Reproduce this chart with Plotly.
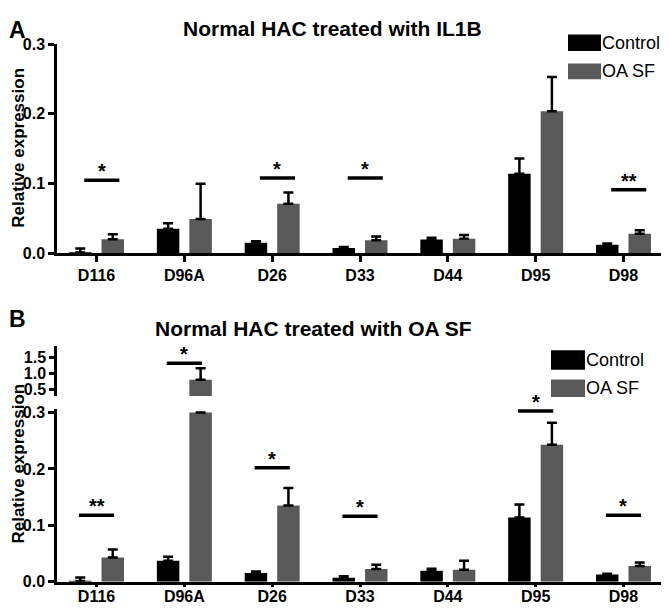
import plotly.graph_objects as go

# ---- data ----
genes = ['D116', 'D96A', 'D26', 'D33', 'D44', 'D95', 'D98']

# Panel A: Normal HAC treated with IL1B
a_control = [0.001, 0.035, 0.015, 0.0074, 0.0195, 0.114, 0.012]
a_control_top = [0.0065, 0.043, 0.017, 0.009, 0.022, 0.136, 0.014]
a_oasf = [0.020, 0.049, 0.071, 0.0186, 0.0205, 0.2036, 0.028]
a_oasf_top = [0.027, 0.0995, 0.087, 0.024, 0.026, 0.253, 0.033]
a_sig_genes = ['D116', 'D26', 'D33', 'D98']
a_sig_y = [0.1046, 0.108, 0.108, 0.091]
a_sig_marks = ['*', '*', '*', '**']

# Panel B: Normal HAC treated with OA SF (broken axis at 0.3)
b_control = [0.001, 0.037, 0.0155, 0.0069, 0.0195, 0.114, 0.0126]
b_control_top = [0.0074, 0.044, 0.018, 0.0098, 0.023, 0.137, 0.014]
b_oasf = [0.043, 0.80, 0.135, 0.0224, 0.021, 0.243, 0.0276]
b_oasf_top = [0.057, 1.16, 0.166, 0.030, 0.037, 0.282, 0.034]
b_sig_genes = ['D116', 'D96A', 'D26', 'D33', 'D95', 'D98']
b_sig_y = [0.118, 1.31, 0.202, 0.116, 0.303, 0.118]
b_sig_marks = ['**', '*', '*', '*', '*', '*']
b_break = 0.3

# page body has an 8px margin, so the figure starts 8px in from the corner
PAD = 8
W, H = 669 - PAD, 613 - PAD
FONT = 'Liberation Sans, Arial, sans-serif'
GREY = '#595959'
BAR_W = 0.256
OFFSETS = {'Control': -0.313, 'OA SF': 0.057}
COLORS = {'Control': 'black', 'OA SF': GREY}


def px_x(p):
    # window pixel -> paper fraction
    return max(p - PAD, 0) / W


def px_y(p):
    return 1 - max(p - PAD, 0) / H


def bar(name, y, top, xa, ya, keep=None):
    # one-sided (upward) error bars, like the original
    ys, errs = [], []
    for v, t in zip(y, top):
        if keep is not None and not keep(v):
            ys.append(None)
            errs.append(0)
        else:
            ys.append(v)
            errs.append(t - v)
    return go.Bar(
        x=genes, y=ys, name=name, xaxis=xa, yaxis=ya,
        width=BAR_W, offset=OFFSETS[name],
        marker=dict(color=COLORS[name], line=dict(width=0)),
        error_y=dict(type='data', symmetric=False, array=errs,
                     arrayminus=[0] * len(errs), color='black',
                     thickness=2.5, width=5),
        showlegend=False, hoverinfo='skip',
    )


fig = go.Figure()

# panel A
fig.add_trace(bar('Control', a_control, a_control_top, 'x', 'y'))
fig.add_trace(bar('OA SF', a_oasf, a_oasf_top, 'x', 'y'))

# panel B lower segment (0 - 0.3): tall bars are cut at the break
b_oasf_low = [min(v, b_break) for v in b_oasf]
b_oasf_low_top = [t if v <= b_break else min(v, b_break) for v, t in zip(b_oasf, b_oasf_top)]
fig.add_trace(bar('Control', b_control, b_control_top, 'x2', 'y2'))
fig.add_trace(bar('OA SF', b_oasf_low, b_oasf_low_top, 'x2', 'y2'))

# panel B upper segment (above the break)
fig.add_trace(bar('Control', b_control, b_control_top, 'x3', 'y3', keep=lambda v: v > b_break))
fig.add_trace(bar('OA SF', b_oasf, b_oasf_top, 'x3', 'y3', keep=lambda v: v > b_break))

axis_line = dict(showline=True, linecolor='black', linewidth=2.5, mirror=False,
                 showgrid=False, zeroline=False, ticks='outside', tickwidth=2.5,
                 tickcolor='black',
                 tickfont=dict(family=FONT, size=16, color='black', weight='bold'))

x_dom = [px_x(57), px_x(663)]
x_range = [-0.45, 6.45]

fig.update_layout(
    width=W, height=H,
    margin=dict(l=0, r=0, t=0, b=0),
    paper_bgcolor='white', plot_bgcolor='white',
    barmode='overlay',
    font=dict(family=FONT, color='black'),
    xaxis=dict(domain=x_dom, range=x_range, anchor='y', ticklen=6, **axis_line),
    yaxis=dict(domain=[px_y(252), px_y(37)], range=[0, 0.3], dtick=0.1,
               tickformat='.1f', ticklen=6, anchor='x', **axis_line),
    xaxis2=dict(domain=x_dom, range=x_range, anchor='y2', ticklen=3,
                ticklabelstandoff=-5, **axis_line),
    yaxis2=dict(domain=[px_y(590), px_y(412)], range=[0, 0.307],
                tickvals=[0, 0.1, 0.2, 0.3], tickformat='.1f', ticklen=6,
                anchor='x2', **axis_line),
    xaxis3=dict(domain=x_dom, range=x_range, anchor='y3', visible=False),
    yaxis3=dict(domain=[px_y(399), px_y(348)], range=[0.3, 1.83],
                tickvals=[0.5, 1.0, 1.5], tickformat='.1f', ticklen=5,
                anchor='x3', **axis_line),
)

shapes = []
annotations = []


def add_sig(gs, ys, marks, lo, hi, xa, ya_low, ya_high=None):
    for g, y, m in zip(gs, ys, marks):
        i = genes.index(g)
        ya = ya_high if (ya_high and y > b_break + 0.05) else ya_low
        shapes.append(dict(type='line', xref=xa, yref=ya, x0=i + lo, x1=i + hi,
                           y0=y, y1=y, line=dict(color='black', width=3.5)))
        annotations.append(dict(x=i + (lo + hi) / 2, y=y, xref=xa, yref=ya,
                                text=m, showarrow=False, yanchor='bottom',
                                yshift=-4,
                                font=dict(family=FONT, size=20, weight='bold')))


add_sig(a_sig_genes, a_sig_y, a_sig_marks, -0.14, 0.26, 'x', 'y')
add_sig(b_sig_genes, b_sig_y, b_sig_marks, -0.2, 0.2, 'x2', 'y2', 'y3')

# legends drawn by hand (wide swatches like the original)
for (x0, x1, y0, y1, tx, ty, label) in [
    (568, 601, 27, 44, 602, 36, 'Control'),
    (568, 601, 57, 73, 602, 65, 'OA SF'),
    (551, 585, 352, 372, 586, 362, 'Control'),
    (551, 585, 382, 400, 586, 391, 'OA SF'),
]:
    shapes.append(dict(type='rect', xref='paper', yref='paper',
                       x0=px_x(x0), x1=px_x(x1), y0=px_y(y1), y1=px_y(y0),
                       fillcolor=COLORS[label], line=dict(width=0)))
    annotations.append(dict(x=px_x(tx), y=px_y(ty), xref='paper', yref='paper',
                            text=label, showarrow=False, xanchor='left',
                            yanchor='middle', xshift=-2,
                            font=dict(family=FONT, size=18, color='black')))

# titles and panel letters (the top row sits against the top edge)
for (tx, y, yanchor, text, size, xanchor) in [
    (332, 1, 'top', 'Normal HAC treated with IL1B', 21, 'center'),
    (313, px_y(330), 'middle', 'Normal HAC treated with OA SF', 21, 'center'),
    (0, 1, 'top', 'A', 23, 'left'),
    (0, px_y(320), 'middle', 'B', 23, 'left'),
]:
    annotations.append(dict(x=px_x(tx), y=y, xref='paper', yref='paper',
                            text=text, showarrow=False, xanchor=xanchor,
                            yanchor=yanchor, borderpad=0,
                            font=dict(family=FONT, size=size, weight='bold')))

for ty in (144, 469):
    annotations.append(dict(x=0, y=px_y(ty), xref='paper', yref='paper',
                            text='Relative expression', textangle=-90,
                            showarrow=False, xanchor='left', yanchor='middle',
                            borderpad=0,
                            font=dict(family=FONT, size=17, weight='bold')))

fig.update_layout(shapes=shapes, annotations=annotations)

fig.write_html("out.html")
